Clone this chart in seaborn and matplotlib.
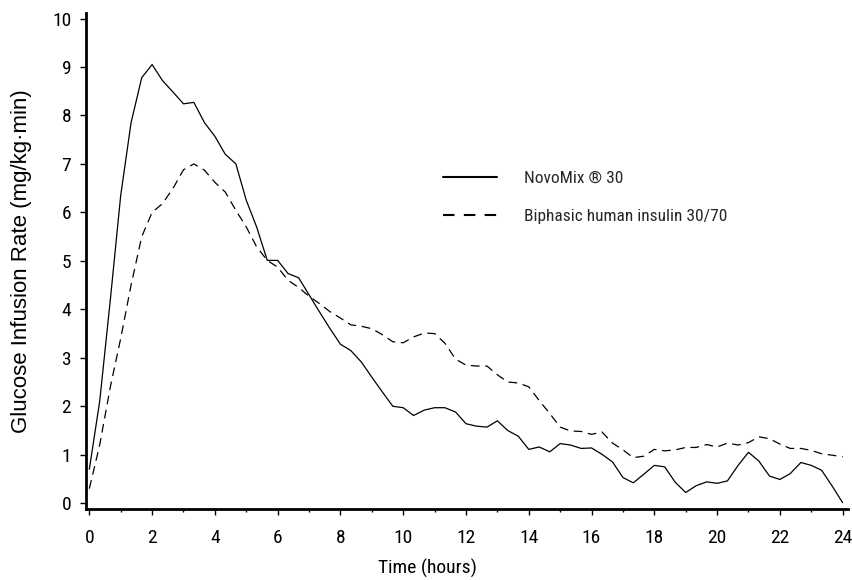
import matplotlib
matplotlib.use("Agg")
import matplotlib.pyplot as plt
from matplotlib.lines import Line2D
from matplotlib.ticker import MultipleLocator
import pandas as pd
import seaborn as sns

sns.set_style("ticks")
narrow = ["Roboto Condensed", "DejaVu Sans"]
plt.rcParams["font.family"] = narrow

# sampling times (hours), every 20 min
time_h = [0, 0.33, 0.67, 1, 1.33, 1.67, 2, 2.33, 2.67, 3, 3.33, 3.67,
          4, 4.33, 4.67, 5, 5.33, 5.67, 6, 6.33, 6.67, 7, 7.33, 7.67,
          8, 8.33, 8.67, 9, 9.33, 9.67, 10, 10.33, 10.67, 11, 11.33, 11.67,
          12, 12.33, 12.67, 13, 13.33, 13.67, 14, 14.33, 14.67, 15, 15.33, 15.67,
          16, 16.33, 16.67, 17, 17.33, 17.67, 18, 18.33, 18.67, 19, 19.33, 19.67,
          20, 20.33, 20.67, 21, 21.33, 21.67, 22, 22.33, 22.67, 23, 23.33, 23.67, 24]

novomix = [0.70, 2.10, 4.20, 6.35, 7.85, 8.78, 9.05, 8.72, 8.48, 8.24, 8.27, 7.85,
           7.57, 7.20, 7.00, 6.25, 5.70, 5.01, 5.01, 4.74, 4.65, 4.30, 3.95, 3.60,
           3.28, 3.15, 2.91, 2.60, 2.30, 2.00, 1.97, 1.81, 1.92, 1.97, 1.97, 1.88,
           1.64, 1.59, 1.57, 1.70, 1.50, 1.38, 1.11, 1.16, 1.06, 1.23, 1.20, 1.13,
           1.14, 1.01, 0.85, 0.53, 0.42, 0.60, 0.78, 0.75, 0.43, 0.22, 0.36, 0.44,
           0.41, 0.46, 0.78, 1.05, 0.87, 0.56, 0.49, 0.61, 0.84, 0.78, 0.68, 0.35, 0.01]

biphasic = [0.30, 1.20, 2.40, 3.40, 4.50, 5.50, 6.00, 6.18, 6.50, 6.88, 7.00, 6.87,
            6.62, 6.42, 6.04, 5.70, 5.29, 5.01, 4.87, 4.60, 4.45, 4.27, 4.12, 3.95,
            3.82, 3.68, 3.65, 3.60, 3.48, 3.33, 3.31, 3.43, 3.51, 3.50, 3.30, 2.97,
            2.85, 2.83, 2.83, 2.65, 2.50, 2.48, 2.40, 2.12, 1.85, 1.57, 1.49, 1.48,
            1.42, 1.47, 1.24, 1.10, 0.94, 0.97, 1.11, 1.08, 1.10, 1.15, 1.15, 1.21,
            1.16, 1.24, 1.20, 1.25, 1.37, 1.33, 1.22, 1.13, 1.13, 1.09, 1.02, 0.99, 0.96]

labels = ["NovoMix \u00ae 30", "Biphasic human insulin 30/70"]

df = pd.concat([
    pd.DataFrame({"hours": time_h, "gir": novomix, "series": labels[0]}),
    pd.DataFrame({"hours": time_h, "gir": biphasic, "series": labels[1]}),
])

fig = plt.figure(figsize=(8.53, 5.8), dpi=100)
ax = fig.add_axes([0.1014, 0.1224, 0.8927, 0.8557])

sns.lineplot(data=df, x="hours", y="gir", style="series",
             dashes={labels[0]: "", labels[1]: (7, 4.5)},
             color="black", linewidth=0.9, ax=ax, legend=False)

ax.set_xlim(-0.09, 24.17)
ax.set_ylim(-0.12, 10.12)
ax.set_xticks(range(0, 25, 2))
ax.xaxis.set_minor_locator(MultipleLocator(1))
ax.set_yticks(range(0, 11))

sns.despine(ax=ax)
for s in ["left", "bottom"]:
    ax.spines[s].set_linewidth(2)
    ax.spines[s].set_color("black")

ax.tick_params(axis="both", which="major", direction="out", length=4, width=1,
               colors="black", labelsize=14)
ax.tick_params(axis="x", which="minor", direction="out", length=2.5, width=1, colors="black")
ax.tick_params(axis="x", which="major", pad=10.5)
ax.tick_params(axis="y", which="major", pad=7)

ax.set_xlabel("Time (hours)", fontsize=14, color="black")
ax.xaxis.label.set_va("center")
ax.xaxis.set_label_coords(0.448, -0.119)
ax.set_ylabel("Glucose Infusion Rate (mg/kg\u00b7min)", fontsize=16, color="black",
              family=["Liberation Sans", "DejaVu Sans"])
ax.yaxis.label.set_va("center")
ax.yaxis.set_label_coords(-0.086, 0.5)

handles = [Line2D([], [], color="black", linewidth=1.5),
           Line2D([], [], color="black", linewidth=1.5, dashes=(5.5, 4.5))]
ax.legend(handles, labels, loc="upper left", bbox_to_anchor=(0.519, 0.706),
          bbox_transform=fig.transFigure, frameon=False, fontsize=12.5,
          handlelength=3.1, handletextpad=1.6, labelspacing=1.33,
          borderpad=0, borderaxespad=0)

fig.savefig("out.png", dpi=100)
